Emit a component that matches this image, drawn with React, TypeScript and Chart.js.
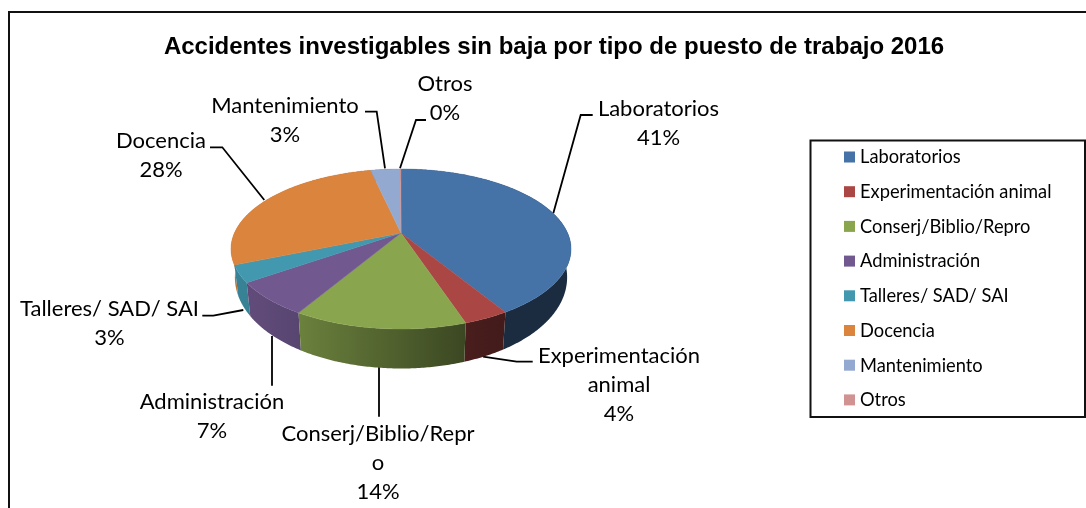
import React, { useEffect, useRef } from "react";
import { Chart, registerables } from "chart.js";

Chart.register(...registerables);

const CATEGORIES = [
  "Laboratorios",
  "Experimentación animal",
  "Conserj/Biblio/Repro",
  "Administración",
  "Talleres/ SAD/ SAI",
  "Docencia",
  "Mantenimiento",
  "Otros",
];
const VALUES = [41.3, 3.6, 13.6, 6.8, 3.4, 27.8, 3.4, 0.1];
const COLORS = ["#4572A7", "#AA4643", "#89A54E", "#71588F", "#4198AF", "#DB843D", "#93A9CF", "#D19392"];
const TITLE = "Accidentes investigables sin baja por tipo de puesto de trabajo 2016";
const LABEL_LINES = [
  ["Laboratorios"],
  ["Experimentación", "animal"],
  ["Conserj/Biblio/Repr", "o"],
  ["Administración"],
  ["Talleres/ SAD/ SAI"],
  ["Docencia"],
  ["Mantenimiento"],
  ["Otros"],
];

// Label placement: text centre x, first line y, leader polyline.
const LABEL_X = [658.5, 619, 378, 212, 109.5, 161, 285, 445];
const LABEL_Y = [108.5, 355.5, 433.5, 401.5, 308.5, 140.5, 105.5, 84];
const LEADERS = [
  [[553.3, 213.3], [580.7, 115], [592.7, 115]],
  [[483, 356.7], [516.7, 361.7], [532.7, 361.7]],
  [[379, 367], [379, 416.7]],
  [[272, 336], [272, 385.7]],
  [[243.3, 310], [213.3, 315.7], [202.3, 315.7]],
  [[264.3, 200], [222.3, 147.3], [210, 147.3]],
  [[385, 168.3], [376.7, 111.7], [365, 111.7]],
  [[400, 168.3], [416, 120], [426, 120]],
];

const FONT = "Lato, 'Open Sans', sans-serif";
const LABEL_SIZE = 22;
const LEGEND_SIZE = 18.3;
const LINE_H = 29;

// Perspective of the pie's top face.
const CX = 401;
const CY = 233;
const A = 166.6;
const B = 76.8;
const K = 0.2;

const topPoint = (a: number) => {
  const u = Math.cos(a);
  const v = Math.sin(a);
  const w = 1 - K * v;
  return { x: (A * u) / w, y: (B * v) / w, v };
};
const topXY = (a: number) => {
  const p = topPoint(a);
  return [CX + p.x, CY + p.y];
};
const bottomXY = (a: number) => {
  const p = topPoint(a);
  return [CX + p.x * 0.977, CY + p.y + 25.5 + 14 * p.v];
};

const SHADE_STOPS = [
  [0, 0.86],
  [0.1, 0.84],
  [0.2, 0.78],
  [0.69, 0.43],
  [0.8, 0.39],
  [1, 0.39],
];

const shade = (hex: string, f: number) => {
  const n = parseInt(hex.slice(1), 16);
  const c = [(n >> 16) & 255, (n >> 8) & 255, n & 255].map((x) => Math.round(x * f));
  return `rgb(${c[0]},${c[1]},${c[2]})`;
};

const arcPoints = (s: number, e: number, fn: (a: number) => number[]) => {
  const n = Math.max(2, Math.ceil((e - s) / 0.01));
  const pts: number[][] = [];
  for (let i = 0; i <= n; i++) pts.push(fn(s + ((e - s) * i) / n));
  return pts;
};

const piePlugin = {
  id: "pie3d",
  beforeDatasetsDraw(chart: any) {
    const ctx = chart.ctx as CanvasRenderingContext2D;
    const arcs = chart.getDatasetMeta(0).data as any[];
    ctx.save();

    // outer frame (runs off the right and bottom of the picture)
    ctx.strokeStyle = "#111";
    ctx.lineWidth = 2;
    ctx.strokeRect(9, 12, 1300, 800);

    // leader lines
    ctx.strokeStyle = "#000";
    ctx.lineWidth = 1.8;
    LEADERS.forEach((l) => {
      ctx.beginPath();
      l.forEach((p, i) => (i ? ctx.lineTo(p[0], p[1]) : ctx.moveTo(p[0], p[1])));
      ctx.stroke();
    });

    // side walls, back to front
    const order = arcs
      .map((_, i) => i)
      .sort(
        (p, q) =>
          Math.sin((arcs[p].startAngle + arcs[p].endAngle) / 2) -
          Math.sin((arcs[q].startAngle + arcs[q].endAngle) / 2)
      );
    order.forEach((i) => {
      const el = arcs[i];
      const g = ctx.createLinearGradient(CX - 172, 0, CX + 172, 0);
      SHADE_STOPS.forEach(([t, f]) => g.addColorStop(t, shade(el.options.backgroundColor, f)));
      const top = arcPoints(el.startAngle, el.endAngle, topXY);
      const bot = arcPoints(el.startAngle, el.endAngle, bottomXY).reverse();
      ctx.beginPath();
      [...top, ...bot].forEach((p, k) => (k ? ctx.lineTo(p[0], p[1]) : ctx.moveTo(p[0], p[1])));
      ctx.closePath();
      ctx.fillStyle = g;
      ctx.fill();
    });

    // top face
    arcs.forEach((el) => {
      const pts = arcPoints(el.startAngle, el.endAngle, topXY);
      ctx.beginPath();
      ctx.moveTo(CX, CY);
      pts.forEach((p) => ctx.lineTo(p[0], p[1]));
      ctx.closePath();
      ctx.fillStyle = el.options.backgroundColor;
      ctx.strokeStyle = el.options.backgroundColor;
      ctx.lineWidth = 0.4;
      ctx.fill();
      ctx.stroke();
    });

    // data labels
    const total = VALUES.reduce((a, b) => a + b, 0);
    ctx.fillStyle = "#000";
    ctx.font = `${LABEL_SIZE}px ${FONT}`;
    ctx.textAlign = "center";
    ctx.textBaseline = "middle";
    LABEL_LINES.forEach((lines, i) => {
      const all = [...lines, `${Math.round((VALUES[i] / total) * 100)}%`];
      all.forEach((t, k) => ctx.fillText(t, LABEL_X[i], LABEL_Y[i] + k * LINE_H));
    });

    // legend
    ctx.strokeStyle = "#111";
    ctx.lineWidth = 2;
    ctx.fillStyle = "#fff";
    ctx.fillRect(810.5, 140.5, 274.5, 276.5);
    ctx.strokeRect(810.5, 140.5, 274.5, 276.5);
    ctx.font = `${LEGEND_SIZE}px ${FONT}`;
    ctx.textAlign = "left";
    CATEGORIES.forEach((c, i) => {
      const y = 157 + i * 34.7;
      ctx.fillStyle = COLORS[i];
      ctx.fillRect(844, y - 5.5, 11, 11);
      ctx.fillStyle = "#000";
      ctx.fillText(c, 860, y + 0.5);
    });

    ctx.restore();
    return false;
  },
};

export default function App() {
  const ref = useRef<HTMLCanvasElement>(null);
  useEffect(() => {
    document.body.style.margin = "0";
    document.body.style.background = "#fff";
    const chart = new Chart(ref.current!, {
      type: "pie",
      data: {
        labels: CATEGORIES,
        datasets: [{ data: VALUES, backgroundColor: COLORS, borderWidth: 0 }],
      },
      options: {
        responsive: false,
        animation: false,
        layout: { padding: { left: 22 } },
        plugins: {
          legend: { display: false },
          tooltip: { enabled: false },
          title: {
            display: true,
            text: TITLE,
            color: "#000",
            font: { family: "'Liberation Sans'", size: 24, weight: "bold" },
            padding: { top: 33, bottom: 10 },
          },
        },
      },
      plugins: [piePlugin],
    } as any);
    return () => chart.destroy();
  }, []);
  return <canvas ref={ref} width={1086} height={508} style={{ display: "block" }} />;
}
